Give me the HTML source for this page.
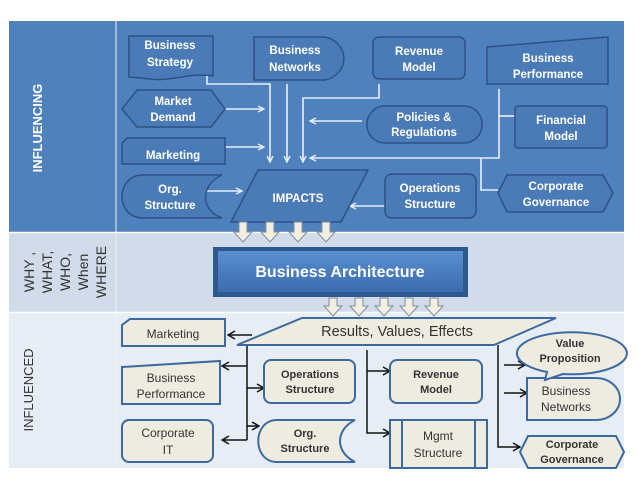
<!DOCTYPE html>
<html><head><meta charset="utf-8"><style>
body{margin:0;background:#fff}
svg{display:block}
text{font-family:"Liberation Sans",sans-serif}
.w{fill:#fff;font-size:11.5px;font-weight:bold;text-anchor:middle}
.b{fill:#333;font-size:12px;text-anchor:middle}
.bb{fill:#333;font-size:11px;font-weight:bold;text-anchor:middle}
.n{fill:#4a7bb7;stroke:#2a5286;stroke-width:1.5}
.m{fill:#eeece1;stroke:#3d6a9e;stroke-width:2}
.wl{stroke:#e8eef8;stroke-width:1.6;fill:none}
.kl{stroke:#111;stroke-width:1.5;fill:none}
</style></head><body>
<svg width="638" height="479" viewBox="0 0 638 479" xmlns="http://www.w3.org/2000/svg">
<defs>
<marker id="wa" markerWidth="8" markerHeight="8" refX="7" refY="4" orient="auto" markerUnits="userSpaceOnUse"><path d="M1,1 L7,4 L1,7" fill="none" stroke="#e8eef8" stroke-width="1.4"/></marker>
<marker id="ka" markerWidth="10" markerHeight="10" refX="9" refY="5" orient="auto" markerUnits="userSpaceOnUse"><path d="M2,1 L9,5 L2,9" fill="none" stroke="#111" stroke-width="1.5"/></marker>
<linearGradient id="ba" x1="0" y1="0" x2="0" y2="1"><stop offset="0" stop-color="#5b8fd0"/><stop offset="1" stop-color="#3a6cae"/></linearGradient>
</defs>
<rect x="9" y="21" width="615" height="211" fill="#4f81bd"/>
<rect x="9" y="233" width="615" height="79" fill="#d2dbe9"/>
<rect x="9" y="313" width="615" height="155" fill="#e7edf5"/>
<line x1="116" y1="21" x2="116" y2="468" stroke="#eef2f8" stroke-width="1"/>
<line x1="9" y1="232.5" x2="624" y2="232.5" stroke="#fff" stroke-width="1.5"/>
<line x1="9" y1="312.5" x2="624" y2="312.5" stroke="#fff" stroke-width="1.5"/>
<text transform="translate(42,128) rotate(-90)" fill="#fff" font-size="13" font-weight="bold" text-anchor="middle">INFLUENCING</text>
<g transform="translate(67,272) rotate(-90)" fill="#333" font-size="14" text-anchor="middle">
<text x="0" y="-33">WHY ,</text><text x="0" y="-15">WHAT,</text><text x="0" y="3">WHO,</text><text x="0" y="21">When</text><text x="0" y="39">WHERE</text></g>
<text transform="translate(33,390) rotate(-90)" fill="#333" font-size="13" text-anchor="middle">INFLUENCED</text>

<path class="wl" d="M207,76 V84 H270 V162" marker-end="url(#wa)"/>
<path class="wl" d="M287,84 V162" marker-end="url(#wa)"/>
<path class="wl" d="M379,84 V98 H303 V162" marker-end="url(#wa)"/>
<path class="wl" d="M362,121 H310" marker-end="url(#wa)"/>
<path class="wl" d="M499,89 V158 H310" marker-end="url(#wa)"/>
<path class="wl" d="M499,116 H515"/>
<path class="wl" d="M481,158 V190 H498"/>
<path class="wl" d="M225,109 H264" marker-end="url(#wa)"/>
<path class="wl" d="M225,147 H264" marker-end="url(#wa)"/>
<path class="wl" d="M207,191 H242" marker-end="url(#wa)"/>
<path class="wl" d="M385,206 H350" marker-end="url(#wa)"/>

<path class="n" d="M129,36 H213 V76 C190,72 170,82 150,79 C140,78 134,77 129,77 Z"/>
<text class="w" y="49"><tspan x="170">Business</tspan><tspan x="170" dy="17">Strategy</tspan></text>
<path class="n" d="M254,37 H325 A24,22 0 0 1 325,80 H254 Z"/>
<text class="w" y="54"><tspan x="295">Business</tspan><tspan x="295" dy="17">Networks</tspan></text>
<rect class="n" x="373" y="37" width="92" height="42" rx="6"/>
<text class="w" font-size="11" y="55"><tspan x="419">Revenue</tspan><tspan x="419" dy="16">Model</tspan></text>
<path class="n" d="M487,47 L608,37 V84 H487 Z"/>
<text class="w" font-size="11" y="62"><tspan x="548">Business</tspan><tspan x="548" dy="16">Performance</tspan></text>
<path class="n" d="M122,109 L137,90 H211 L225,109 L211,127 H137 Z"/>
<text class="w" font-size="11" y="105"><tspan x="173">Market</tspan><tspan x="173" dy="16">Demand</tspan></text>
<path class="n" d="M122,143 L127,138 H225 V164 H122 Z"/>
<text class="w" font-size="11" x="173" y="159">Marketing</text>
<path class="n" d="M143,175 H222 C200,185 200,210 222,218 H143 C115,218 115,175 143,175 Z"/>
<text class="w" font-size="11" y="193"><tspan x="170">Org.</tspan><tspan x="170" dy="16">Structure</tspan></text>
<path class="n" d="M258,170 H368 L341,222 H231 Z"/>
<text class="w" font-size="15" x="298" y="202">IMPACTS</text>
<rect class="n" x="367" y="106" width="115" height="37" rx="18"/>
<text class="w" font-size="11" y="121"><tspan x="424">Policies &amp;</tspan><tspan x="424" dy="15">Regulations</tspan></text>
<rect class="n" x="515" y="106" width="92" height="42" rx="3"/>
<text class="w" font-size="11" y="124"><tspan x="561">Financial</tspan><tspan x="561" dy="16">Model</tspan></text>
<rect class="n" x="385" y="174" width="91" height="44" rx="7"/>
<text class="w" font-size="11" y="192"><tspan x="430">Operations</tspan><tspan x="430" dy="16">Structure</tspan></text>
<path class="n" d="M498,193 L507,175 H603 L613,193 L603,212 H507 Z"/>
<text class="w" font-size="11" y="190"><tspan x="556">Corporate</tspan><tspan x="556" dy="16">Governance</tspan></text>

<g fill="#f2efe0" stroke="#7f8ea4" stroke-width="1">
<path d="M239,222 h8 v10 h5 l-9,10 l-9,-10 h5 z"/>
<path d="M266,222 h8 v10 h5 l-9,10 l-9,-10 h5 z"/>
<path d="M294,222 h8 v10 h5 l-9,10 l-9,-10 h5 z"/>
<path d="M322,222 h8 v10 h5 l-9,10 l-9,-10 h5 z"/>
<path d="M329,298 h8 v8 h5 l-9,10 l-9,-10 h5 z"/>
<path d="M355,298 h8 v8 h5 l-9,10 l-9,-10 h5 z"/>
<path d="M380,298 h8 v8 h5 l-9,10 l-9,-10 h5 z"/>
<path d="M405,298 h8 v8 h5 l-9,10 l-9,-10 h5 z"/>
<path d="M430,298 h8 v8 h5 l-9,10 l-9,-10 h5 z"/>
</g>
<rect x="213" y="247" width="255" height="50" fill="#2c5a8f"/>
<rect x="218" y="251" width="245" height="41" fill="url(#ba)"/>
<text x="340" y="277" fill="#fff" font-size="16" font-weight="bold" text-anchor="middle">Business Architecture</text>

<path class="kl" d="M247,345 V440"/>
<path class="kl" d="M252,335 H228" marker-end="url(#ka)"/>
<path class="kl" d="M247,366 H222" marker-end="url(#ka)"/>
<path class="kl" d="M247,440 H222" marker-end="url(#ka)"/>
<path class="kl" d="M247,388 H264" marker-end="url(#ka)"/>
<path class="kl" d="M247,426 H259" marker-end="url(#ka)"/>
<path class="kl" d="M367,350 V433 H390" marker-end="url(#ka)"/>
<path class="kl" d="M367,371 H390" marker-end="url(#ka)"/>
<path class="kl" d="M498,345 V447 H520" marker-end="url(#ka)"/>
<path class="kl" d="M504,365 H525" marker-end="url(#ka)"/>
<path class="kl" d="M504,393 H527" marker-end="url(#ka)"/>

<path class="m" d="M302,318 H556 L494,345 H237 Z"/>
<text x="397" y="336" fill="#333" font-size="14.5" text-anchor="middle">Results, Values, Effects</text>
<path class="m" d="M122,325 L130,319 H225 V346 H122 Z"/>
<text class="b" x="173" y="338">Marketing</text>
<path class="m" d="M122,367 L220,361 V404 H122 Z"/>
<text class="b" y="382"><tspan x="171">Business</tspan><tspan x="171" dy="16">Performance</tspan></text>
<rect class="m" x="122" y="420" width="91" height="42" rx="7"/>
<text class="b" y="437"><tspan x="168">Corporate</tspan><tspan x="168" dy="17">IT</tspan></text>
<rect class="m" x="264" y="360" width="91" height="43" rx="7"/>
<text class="bb" y="378"><tspan x="310">Operations</tspan><tspan x="310" dy="15">Structure</tspan></text>
<path class="m" d="M277,420 H355 C335,430 335,452 355,462 H277 C252,462 252,420 277,420 Z"/>
<text class="bb" y="437"><tspan x="305">Org.</tspan><tspan x="305" dy="15">Structure</tspan></text>
<rect class="m" x="390" y="360" width="92" height="43" rx="7"/>
<text class="bb" y="378"><tspan x="436">Revenue</tspan><tspan x="436" dy="15">Model</tspan></text>
<rect class="m" x="390" y="420" width="97" height="48"/>
<line x1="402" y1="420" x2="402" y2="468" stroke="#3d6a9e" stroke-width="2"/>
<line x1="475" y1="420" x2="475" y2="468" stroke="#3d6a9e" stroke-width="2"/>
<text class="b" y="440"><tspan x="438">Mgmt</tspan><tspan x="438" dy="17">Structure</tspan></text>
<path class="m" d="M527,378 H596 A24,21 0 0 1 596,420 H527 Z"/>
<text class="b" y="395"><tspan x="566">Business</tspan><tspan x="566" dy="16">Networks</tspan></text>
<path class="m" d="M547,372 A55,21 0 1 1 563,374 L545,380 Z"/>
<text class="bb" y="347"><tspan x="570">Value</tspan><tspan x="570" dy="15">Proposition</tspan></text>
<path class="m" d="M520,452 L528,436 H616 L624,452 L616,468 H528 Z"/>
<text class="bb" y="448"><tspan x="572">Corporate</tspan><tspan x="572" dy="15">Governance</tspan></text>
</svg>
</body></html>
